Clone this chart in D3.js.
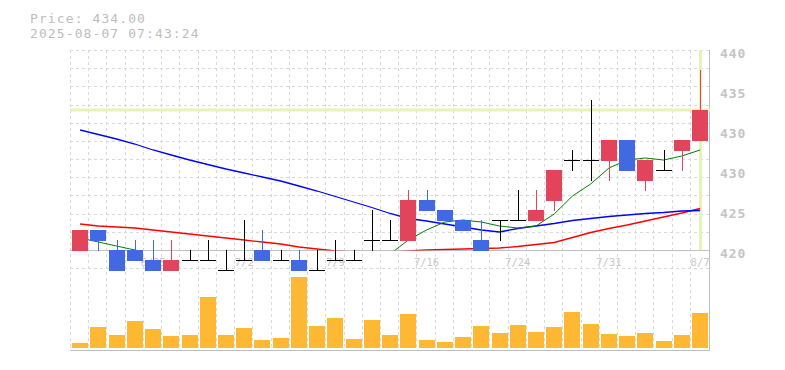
<!DOCTYPE html>
<html>
<head>
<meta charset="utf-8">
<script src="https://cdn.jsdelivr.net/npm/d3@7"></script>
<style>
  html, body { margin: 0; padding: 0; background: #ffffff; }
  svg { display: block; }
</style>
</head>
<body>
<svg id="chart" width="785" height="370"></svg>
<script>
// ---- data ----
const headerPrice = "Price: 434.00";
const headerTime = "2025-08-07 07:43:24";
const currentPrice = 434;

const dates = ["6/19","6/20","6/23","6/24","6/25","6/26","6/27","6/30","7/1","7/2",
  "7/3","7/4","7/7","7/8","7/9","7/10","7/11","7/14","7/15","7/16",
  "7/17","7/18","7/22","7/23","7/24","7/25","7/28","7/29","7/30","7/31",
  "8/1","8/4","8/5","8/6","8/7"];

const opens  = [420,422,420,420,419,418,419,419,418,419,420,419,419,418,419,419,421,421,421,425,
                424,423,421,423,423,423,425,429,429,429,431,427,428,430,431];
const highs  = [422,422,421,421,421,421,420,421,420,423,422,420,420,420,421,420,424,423,426,426,
                424,423,423,423,426,426,428,430,435,431,431,429,430,431,438];
const lows   = [420,420,418,419,418,418,419,419,418,419,419,419,418,418,419,419,420,421,421,424,
                423,422,420,421,423,423,424,428,427,427,428,426,428,428,431];
const closes = [422,421,418,419,418,419,419,419,418,419,419,419,418,418,419,419,421,421,425,424,
                423,422,420,423,423,424,428,429,429,431,428,429,428,431,434];

const volumes = [500,2100,1300,2700,1900,1200,1300,5100,1300,2000,800,1000,7130,2200,3000,900,2800,1300,3400,800,
                 600,1100,2200,1500,2300,1600,2100,3600,2400,1400,1200,1500,700,1300,3500];

const maShort = [421.2,420.8,420.4,420.0,419.6,419.0,418.6,418.8,418.6,418.8,418.8,418.8,418.6,418.6,418.6,418.6,419.0,419.6,421.0,422.0,
                 422.8,423.0,422.8,422.4,422.2,422.4,423.6,425.4,426.6,428.2,429.0,429.2,429.0,429.4,430.0];
const maMid   = [432.0,431.55,431.1,430.6,430.0,429.5,429.0,428.55,428.1,427.7,427.3,426.9,426.4,425.9,425.35,424.8,424.25,423.65,423.15,422.9,
                 422.6,422.3,422.0,421.8,422.15,422.4,422.65,422.95,423.15,423.35,423.5,423.65,423.75,423.9,423.95];
const maLong  = [422.6,422.4,422.3,422.2,422.0,421.8,421.6,421.4,421.2,421.0,420.8,420.6,420.3,420.1,419.9,419.8,419.8,419.8,419.9,420.0,
                 420.05,420.1,420.15,420.2,420.35,420.55,420.75,421.25,421.75,422.15,422.5,422.9,423.3,423.7,424.15];

const yTickValues = [440,436,432,428,424,420];
const yTickLabels = ["440","435","430","430","425","420"];

// ---- layout ----
const svg = d3.select("#chart");
const plotL = 71, plotR = 709.2;
const priceTop = 50, priceBot = 250;
const volTop = 276, volBot = 348, volAxis = 350;

const idx = d3.range(dates.length);
const x = d3.scaleBand().domain(idx).range([plotL, plotR]).padding(0);
const bw = x.bandwidth();
const cx = i => x(i) + bw / 2;
const y = d3.scaleLinear().domain([420, 440]).range([priceBot, priceTop]);
const yv = d3.scaleLinear().domain([0, 7200]).range([volBot, volTop]);

const gridColor = "#d9d9d9";
const axisColor = "#c0c0c0";
const upColor = "#e2445c", downColor = "#4169e1";

// header
svg.append("text").attr("x", 30).attr("y", 22.5)
  .attr("font-family", "DejaVu Sans Mono").attr("font-size", 13).attr("letter-spacing", 1.1)
  .attr("fill", "#bdbdbd").text(headerPrice);
svg.append("text").attr("x", 30).attr("y", 37.5)
  .attr("font-family", "DejaVu Sans Mono").attr("font-size", 13).attr("letter-spacing", 1.1)
  .attr("fill", "#bdbdbd").text(headerTime);

// grid
const grid = svg.append("g").attr("shape-rendering", "crispEdges");
const gridVals = d3.range(-1, 12).map(k => 420 + k * 20 / 11);
grid.selectAll("line.h").data(gridVals.filter((v, k) => k !== 1)).join("line")
  .attr("x1", plotL - 1).attr("x2", plotR)
  .attr("y1", d => Math.round(y(d)) + 0.5).attr("y2", d => Math.round(y(d)) + 0.5)
  .attr("stroke", gridColor).attr("stroke-dasharray", "3,3");
grid.selectAll("line.v").data(idx).join("line")
  .attr("x1", d => Math.round(x(d)) - 0.5).attr("x2", d => Math.round(x(d)) - 0.5)
  .attr("y1", priceTop).attr("y2", volBot + 1)
  .attr("stroke", gridColor).attr("stroke-dasharray", "3,3");

// axis lines / frame
grid.append("line").attr("x1", plotL - 1).attr("x2", plotR + 1)
  .attr("y1", priceBot + 0.5).attr("y2", priceBot + 0.5).attr("stroke", axisColor);
grid.append("line").attr("x1", plotL - 1).attr("x2", plotR + 1)
  .attr("y1", volAxis + 0.5).attr("y2", volAxis + 0.5).attr("stroke", axisColor).attr("stroke-width", 1.5);
grid.append("line").attr("x1", Math.round(plotR) + 0.5).attr("x2", Math.round(plotR) + 0.5)
  .attr("y1", priceTop).attr("y2", volAxis + 1).attr("stroke", axisColor);

// y axis labels (right)
svg.append("g").selectAll("text").data(yTickValues).join("text")
  .attr("x", 720).attr("y", d => y(d) + 7.7)
  .attr("font-family", "DejaVu Sans Mono").attr("font-weight", "bold")
  .attr("font-size", 13).attr("letter-spacing", 0.9)
  .attr("fill", "#c4c4c4")
  .text((d, i) => yTickLabels[i]);

// x labels
svg.append("g").selectAll("text").data(idx.filter(i => i % 5 === 4)).join("text")
  .attr("x", d => cx(d)).attr("y", 266)
  .attr("text-anchor", "middle")
  .attr("font-family", "DejaVu Sans Mono").attr("font-size", 10.5)
  .attr("fill", "#c8c8c8")
  .text(d => dates[d]);

// current price lines
const lastI = dates.length - 1;
svg.append("line").attr("x1", plotL - 1).attr("x2", plotR + 1)
  .attr("y1", y(currentPrice)).attr("y2", y(currentPrice))
  .attr("stroke", "#e4f5b3").attr("stroke-width", 3);
svg.append("line").attr("x1", Math.round(cx(lastI)) + 0.5).attr("x2", Math.round(cx(lastI)) + 0.5)
  .attr("y1", priceTop).attr("y2", priceBot)
  .attr("stroke", "#e4f5b3").attr("stroke-width", 3);

// moving averages (clipped to price area)
svg.append("defs").append("clipPath").attr("id", "pclip")
  .append("rect").attr("x", plotL - 2).attr("y", priceTop - 5)
  .attr("width", plotR - plotL + 4).attr("height", priceBot + 0.5 - (priceTop - 5));
const lineGen = d3.line().x((d, i) => cx(i)).y(d => y(d));
const maG = svg.append("g").attr("clip-path", "url(#pclip)");
maG.append("path").attr("d", lineGen(maLong)).attr("fill", "none").attr("stroke", "#ff0000").attr("stroke-width", 1.3);
maG.append("path").attr("d", lineGen(maMid)).attr("fill", "none").attr("stroke", "#0000ff").attr("stroke-width", 1.3);
maG.append("path").attr("d", lineGen(maShort)).attr("fill", "none").attr("stroke", "#008000").attr("stroke-width", 1);

// candles
const cg = svg.append("g").attr("shape-rendering", "crispEdges");
idx.forEach(i => {
  const o = opens[i], c = closes[i], h = highs[i], l = lows[i];
  const col = c > o ? upColor : (c < o ? downColor : "#000000");
  const xc = Math.round(cx(i));
  cg.append("line").attr("x1", xc + 0.5).attr("x2", xc + 0.5)
    .attr("y1", Math.round(y(h))).attr("y2", Math.round(y(l)) + 1)
    .attr("stroke", col);
  if (c === o) {
    const yy = Math.round(y(o)) + 0.5;
    cg.append("line").attr("x1", xc - 8).attr("x2", xc + 8)
      .attr("y1", yy).attr("y2", yy).attr("stroke", col);
  } else {
    const top = Math.round(y(Math.max(o, c)));
    const bot = Math.round(y(Math.min(o, c)));
    cg.append("rect").attr("x", xc - 8).attr("width", 16)
      .attr("y", top).attr("height", bot - top + 1).attr("fill", col);
  }
});

// volume bars
svg.append("g").attr("shape-rendering", "crispEdges")
  .selectAll("rect").data(volumes).join("rect")
  .attr("x", (d, i) => Math.round(cx(i)) - 8).attr("width", 16)
  .attr("y", d => yv(d)).attr("height", d => volBot - yv(d))
  .attr("fill", "#ffb833");
</script>
</body>
</html>
